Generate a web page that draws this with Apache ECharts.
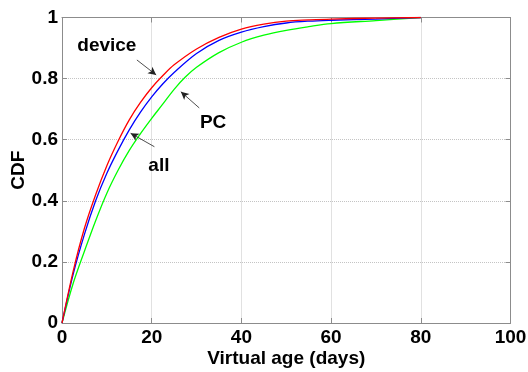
<!DOCTYPE html>
<html>
<head>
<meta charset="utf-8">
<script src="https://cdn.jsdelivr.net/npm/echarts@6/dist/echarts.min.js"></script>
<style>
  html, body { margin: 0; padding: 0; background: #fff; }
  #chart { width: 528px; height: 372px; }
</style>
</head>
<body>
<div id="chart"></div>
<script>
// Virtual age in days at which each CDF value was sampled
const ageDevice = [0, 2.5, 5, 7.5, 10, 12.5, 15, 17.5, 20, 22.5, 25, 30, 35, 40, 45, 50, 55, 60, 70, 80];
const cdfDevice = [0, 0.17, 0.31, 0.42, 0.515, 0.595, 0.665, 0.722, 0.77, 0.81, 0.845, 0.897, 0.935, 0.962, 0.978, 0.988, 0.992, 0.995, 0.998, 1];

const ageAll = [0, 2.5, 5, 7.5, 10, 12.5, 15, 17.5, 20, 22.5, 25, 30, 35, 40, 45, 50, 55, 60, 70, 80];
const cdfAll = [0, 0.16, 0.29, 0.40, 0.49, 0.565, 0.632, 0.69, 0.74, 0.783, 0.82, 0.882, 0.925, 0.952, 0.97, 0.982, 0.988, 0.991, 0.995, 1];

const agePC = [0, 2.5, 5, 7.5, 10, 12.5, 15, 17.5, 20, 22.5, 25, 27.5, 30, 35, 40, 45, 50, 55, 60, 70, 80];
const cdfPC = [0, 0.13, 0.235, 0.335, 0.425, 0.50, 0.565, 0.62, 0.67, 0.717, 0.765, 0.805, 0.837, 0.885, 0.919, 0.942, 0.958, 0.97, 0.98, 0.99, 1];

// Curve labels: text anchor and arrow (from -> to), in data units
const labelNames = ['device', 'PC', 'all'];
const labelAnchors = [[10.0, 0.907], [33.7, 0.655], [21.6, 0.514]];
const arrowFrom = [[16.7, 0.861], [30.6, 0.704], [20.6, 0.577]];
const arrowTo = [[21.0, 0.812], [26.5, 0.757], [15.3, 0.621]];

const xTicks = { min: 0, max: 100, interval: 20 };
const yTicks = { min: 0, max: 1, interval: 0.2 };

const pairs = (xs, ys) => xs.map((x, i) => [x, ys[i]]);

const FONT = '"Liberation Sans", Arial, sans-serif';
const AXIS_GRAY = '#8c8c8c';
const GRID_GRAY = '#c4c4c4';

const tickLabel = { color: '#000', fontFamily: FONT, fontWeight: 'bold', fontSize: 19 };

function lineSeries(name, xs, ys, color) {
  return {
    name, type: 'line', data: pairs(xs, ys),
    showSymbol: false, smooth: 0.35,
    lineStyle: { color, width: 1.3 }, itemStyle: { color },
    z: 3
  };
}

const chart = echarts.init(document.getElementById('chart'), null, { renderer: 'canvas' });

const arrowSeries = {
  type: 'line', data: [], silent: true,
  markLine: {
    silent: true, animation: false,
    symbol: ['none', 'arrow'], symbolSize: [6, 8],
    label: { show: false },
    lineStyle: { color: '#222', width: 0.8, type: 'solid' },
    data: arrowFrom.map((p, i) => [{ coord: p }, { coord: arrowTo[i] }])
  }
};

chart.setOption({
  animation: false,
  backgroundColor: '#fff',
  grid: { left: 62, right: 17.5, top: 17.5, bottom: 49, containLabel: false, outerBoundsMode: 'none' },
  xAxis: [
    {
      type: 'value', ...xTicks,
      name: 'Virtual age (days)', nameLocation: 'middle', nameGap: 26, nameMoveOverlap: false,
      nameTextStyle: { ...tickLabel },
      axisLine: { show: true, onZero: false, lineStyle: { color: AXIS_GRAY, width: 1 } },
      axisTick: { show: true, inside: true, length: 5, lineStyle: { color: AXIS_GRAY } },
      axisLabel: { ...tickLabel, margin: 5 },
      splitLine: { show: true, lineStyle: { color: GRID_GRAY, type: 'dotted', width: 1 } }
    },
    {
      type: 'value', ...xTicks, position: 'top',
      axisLine: { show: true, onZero: false, lineStyle: { color: AXIS_GRAY, width: 1 } },
      axisTick: { show: true, inside: true, length: 5, lineStyle: { color: AXIS_GRAY } },
      axisLabel: { show: false }, splitLine: { show: false }
    }
  ],
  yAxis: [
    {
      type: 'value', ...yTicks,
      name: 'CDF', nameLocation: 'middle', nameGap: 34, nameRotate: 90, nameMoveOverlap: false,
      nameTextStyle: { ...tickLabel },
      axisLine: { show: true, onZero: false, lineStyle: { color: AXIS_GRAY, width: 1 } },
      axisTick: { show: true, inside: true, length: 5, lineStyle: { color: AXIS_GRAY } },
      axisLabel: { ...tickLabel, margin: 4 },
      splitLine: { show: true, lineStyle: { color: GRID_GRAY, type: 'dotted', width: 1 } }
    },
    {
      type: 'value', ...yTicks, position: 'right',
      axisLine: { show: true, onZero: false, lineStyle: { color: AXIS_GRAY, width: 1 } },
      axisTick: { show: true, inside: true, length: 5, lineStyle: { color: AXIS_GRAY } },
      axisLabel: { show: false }, splitLine: { show: false }
    }
  ],
  series: [
    lineSeries('PC', agePC, cdfPC, '#00ff00'),
    lineSeries('all', ageAll, cdfAll, '#0000ff'),
    lineSeries('device', ageDevice, cdfDevice, '#ff0000'),
    arrowSeries
  ]
});

// Curve names placed at their data-space anchors
chart.setOption({
  graphic: labelNames.map((name, i) => {
    const [px, py] = chart.convertToPixel({ xAxisIndex: 0, yAxisIndex: 0 }, labelAnchors[i]);
    return {
      type: 'text', x: px, y: py, z: 10,
      style: {
        text: name, fill: '#000', font: 'bold 19px ' + FONT,
        textAlign: 'center', textVerticalAlign: 'middle'
      }
    };
  })
});
</script>
</body>
</html>
